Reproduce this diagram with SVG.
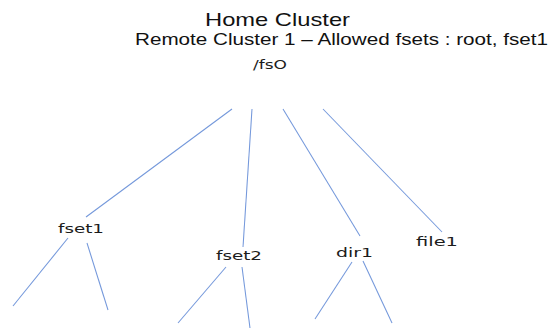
<svg xmlns="http://www.w3.org/2000/svg" width="556" height="328" viewBox="0 0 556 328">
  <style>
    .title { font-family: "Liberation Sans", Arial, sans-serif; fill: #111; }
    .lbl { font-family: "DejaVu Sans", "Open Sans", sans-serif; font-size: 12px; fill: #1c1c1c; }
    .edge { stroke: #7498db; stroke-width: 1.05; fill: none; }
  </style>
  <rect width="556" height="328" fill="#fff"/>

  <g id="titles">
    <text class="title" x="205" y="26" font-size="19" textLength="145" lengthAdjust="spacingAndGlyphs">Home Cluster</text>
    <text class="title" x="135" y="45" font-size="16" textLength="413" lengthAdjust="spacingAndGlyphs">Remote Cluster 1 – Allowed fsets : root, fset1</text>
  </g>

  <g id="connectors">
    <line class="edge" x1="232" y1="109" x2="86" y2="217"/>
    <line class="edge" x1="252" y1="109" x2="243" y2="247"/>
    <line class="edge" x1="283" y1="109" x2="360" y2="236"/>
    <line class="edge" x1="323" y1="109" x2="442" y2="232"/>
    <line class="edge" x1="68" y1="238" x2="13" y2="306"/>
    <line class="edge" x1="87" y1="243" x2="108" y2="310"/>
    <line class="edge" x1="226" y1="267" x2="178" y2="323"/>
    <line class="edge" x1="242" y1="267" x2="250" y2="328"/>
    <line class="edge" x1="352" y1="262" x2="315" y2="319"/>
    <line class="edge" x1="363" y1="261" x2="392" y2="323"/>
  </g>

  <g id="node-fs0"><text class="lbl" x="253" y="69" textLength="34" lengthAdjust="spacingAndGlyphs">/fsO</text></g>
  <g id="node-fset1"><text class="lbl" x="58" y="233" textLength="46" lengthAdjust="spacingAndGlyphs">fset1</text></g>
  <g id="node-fset2"><text class="lbl" x="216" y="260" textLength="46" lengthAdjust="spacingAndGlyphs">fset2</text></g>
  <g id="node-dir1"><text class="lbl" x="336" y="257" textLength="37" lengthAdjust="spacingAndGlyphs">dir1</text></g>
  <g id="node-file1"><text class="lbl" x="416" y="246" textLength="42" lengthAdjust="spacingAndGlyphs">file1</text></g>
</svg>
